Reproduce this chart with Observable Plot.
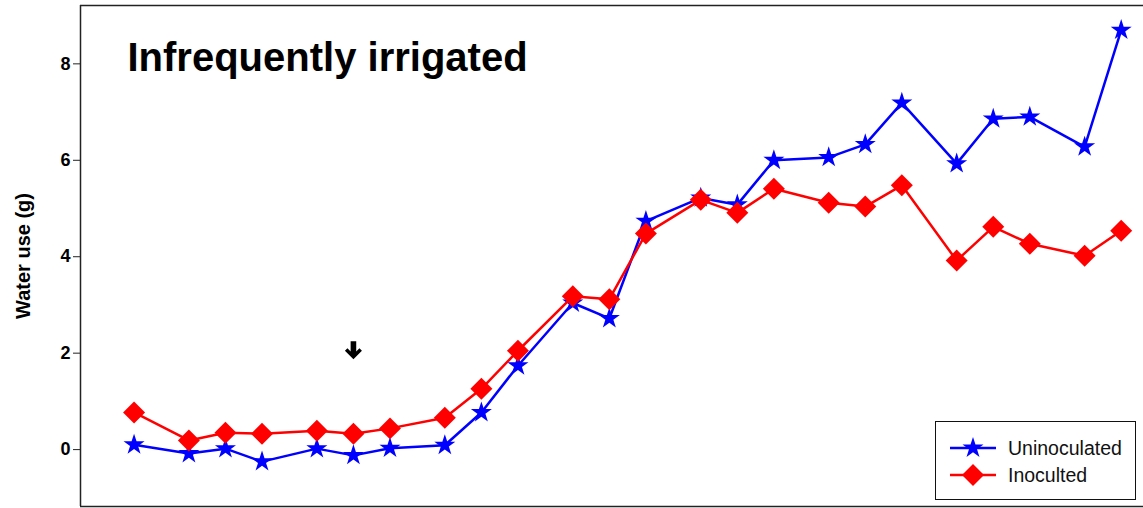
<!DOCTYPE html>
<html>
<head>
<meta charset="utf-8">
<script src="https://cdn.jsdelivr.net/npm/d3@7"></script>
<script src="https://cdn.jsdelivr.net/npm/@observablehq/plot@0.6"></script>
<style>
  html, body { margin: 0; padding: 0; background: #fff; }
  #wrap { position: relative; width: 1143px; height: 508px; font-family: "Liberation Sans", Arial, sans-serif; }
  #wrap svg { display: block; }
  #legend { position: absolute; left: 935px; top: 421px; width: 199px; height: 77px; border: 1.5px solid #111; background: #fff; box-sizing: content-box; }
  .entry { position: absolute; left: 14px; height: 24px; display: flex; align-items: center; font-size: 19.5px; color: #111; }
  .entry svg { margin-right: 12px; }
</style>
</head>
<body>
<div id="wrap"><div id="legend"></div></div>
<script>
// ---- data ----
const days = [0, 3, 5, 7, 10, 12, 14, 17, 19, 21, 24, 26, 28, 31, 33, 35, 38, 40, 42, 45, 47, 49, 52, 54];
const uninoculated = [0.10, -0.08, 0.02, -0.25, 0.02, -0.12, 0.03, 0.09, 0.77, 1.74, 3.04, 2.72, 4.74, 5.22, 5.08, 6.00, 6.06, 6.33, 7.19, 5.93, 6.86, 6.90, 6.28, 8.70];
const inoculated   = [0.77, 0.19, 0.35, 0.33, 0.39, 0.33, 0.44, 0.66, 1.26, 2.05, 3.18, 3.12, 4.48, 5.18, 4.91, 5.41, 5.12, 5.04, 5.48, 3.92, 4.62, 4.27, 4.02, 4.54];
const seriesNames = ["Uninoculated", "Inoculted"];
const seriesColors = ["#0000ff", "#ff0000"];
const seriesSymbols = ["star", "diamond2"];
const seriesR = [6.6, 9.9];
const yTicks = [0, 2, 4, 6, 8];
const xDomain = [-2.93, 55.22];
const yDomain = [-1.18, 9.21];
const titleText = "Infrequently irrigated";
const yLabel = "Water use (g)";
const arrowMarker = [{day: 12, value: 2.04}];

const rows = (vals, s) => days.map((d, i) => ({day: d, value: vals[i], series: s}));
const blue = rows(uninoculated, seriesNames[0]);
const red = rows(inoculated, seriesNames[1]);

// bold downward arrow glyph as a custom symbol
const downArrow = {
  draw(ctx) {
    ctx.moveTo(-2.8, -10);
    ctx.lineTo(2.8, -10);
    ctx.lineTo(2.8, 0.2);
    ctx.lineTo(6, -3);
    ctx.lineTo(8.5, -0.5);
    ctx.lineTo(0, 8);
    ctx.lineTo(-8.5, -0.5);
    ctx.lineTo(-6, -3);
    ctx.lineTo(-2.8, 0.2);
    ctx.closePath();
  }
};

const plot = Plot.plot({
  width: 1143,
  height: 508,
  marginLeft: 80,
  marginRight: 0,
  marginTop: 5,
  marginBottom: 2,
  style: {fontFamily: "'Liberation Sans', Arial, sans-serif", background: "#fff", color: "#000"},
  x: {domain: xDomain, axis: null},
  y: {domain: yDomain, axis: null},
  marks: [
    Plot.ruleX([xDomain[0]], {stroke: "#222", strokeWidth: 1.5}),
    Plot.ruleY(yDomain, {stroke: "#222", strokeWidth: 1.5}),
    Plot.axisY({ticks: yTicks, tickSize: 7, tickPadding: 3, fontSize: 18, fontWeight: "bold", label: null, stroke: "#222"}),
    Plot.lineY(blue, {x: "day", y: "value", stroke: seriesColors[0], strokeWidth: 2.5}),
    Plot.dot(blue, {x: "day", y: "value", symbol: seriesSymbols[0], r: seriesR[0], fill: seriesColors[0], stroke: "none"}),
    Plot.lineY(red, {x: "day", y: "value", stroke: seriesColors[1], strokeWidth: 2.5}),
    Plot.dot(red, {x: "day", y: "value", symbol: seriesSymbols[1], r: seriesR[1], fill: seriesColors[1], stroke: "none"}),
    Plot.dot(arrowMarker, {x: "day", y: "value", symbol: downArrow, r: 5, fill: "#000", stroke: "none"}),
    Plot.text([titleText], {frameAnchor: "top-left", dx: 47, dy: 65, textAnchor: "start", lineAnchor: "bottom", fontSize: 40, fontWeight: "bold", fill: "#000"}),
    Plot.text([yLabel], {frameAnchor: "left", dx: -57, rotate: -90, textAnchor: "middle", lineAnchor: "middle", fontSize: 20, fontWeight: "bold", fill: "#000"})
  ]
});
document.getElementById("wrap").prepend(plot);

// ---- legend ----
const legend = d3.select("#legend");
seriesNames.forEach((name, i) => {
  const e = legend.append("div").attr("class", "entry").style("top", (i === 0 ? 14 : 41) + "px");
  const s = e.append("svg").attr("width", 46).attr("height", 24);
  s.append("line").attr("x1", 0).attr("x2", 46).attr("y1", 12).attr("y2", 12)
    .attr("stroke", seriesColors[i]).attr("stroke-width", 2.5);
  const sym = seriesSymbols[i] === "star" ? d3.symbolStar : d3.symbolDiamond2;
  s.append("path").attr("transform", "translate(23,12)")
    .attr("d", d3.symbol(sym, Math.PI * seriesR[i] * seriesR[i])())
    .attr("fill", seriesColors[i]);
  e.append("span").text(name);
});
</script>
</body>
</html>
